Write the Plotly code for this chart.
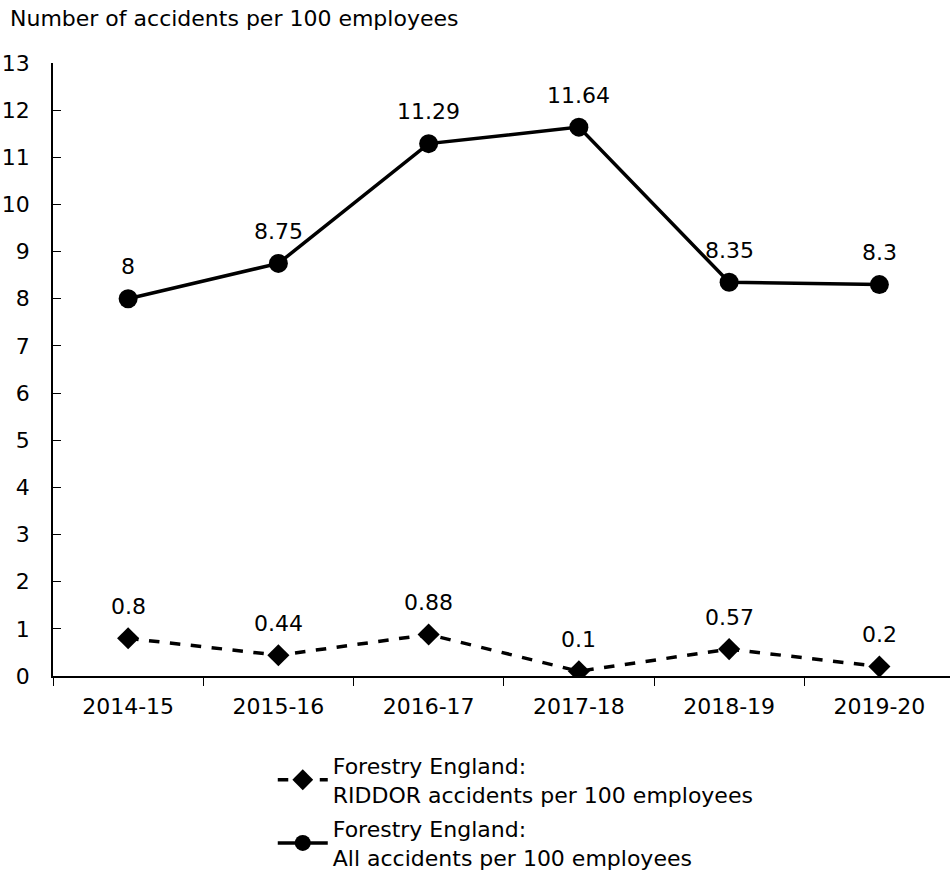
import plotly.graph_objects as go

years = ["2014-15", "2015-16", "2016-17", "2017-18", "2018-19", "2019-20"]
riddor = [0.8, 0.44, 0.88, 0.1, 0.57, 0.2]
all_acc = [8, 8.75, 11.29, 11.64, 8.35, 8.3]
riddor_labels = ["0.8", "0.44", "0.88", "0.1", "0.57", "0.2"]
all_labels = ["8", "8.75", "11.29", "11.64", "8.35", "8.3"]

FONT = "DejaVu Sans"
FS = 22

fig = go.Figure()
fig.add_trace(go.Scatter(
    x=years, y=riddor, mode="lines+markers", legendgroup="a",
    name="Forestry England:<br>RIDDOR accidents per 100 employees",
    line=dict(color="black", width=3.5, dash="dash"),
    marker=dict(symbol="diamond", size=17, color="black"),
))
fig.add_trace(go.Scatter(
    x=years, y=all_acc, mode="lines+markers", legendgroup="b",
    name="Forestry England:<br>All accidents per 100 employees",
    line=dict(color="black", width=3.5),
    marker=dict(symbol="circle", size=19, color="black"),
))

for xs, ys, labs in [(years, riddor, riddor_labels), (years, all_acc, all_labels)]:
    for x, y, t in zip(xs, ys, labs):
        fig.add_annotation(x=x, y=y, text=t, showarrow=False, yshift=32,
                           font=dict(family=FONT, size=FS, color="black"))

fig.add_annotation(xref="paper", yref="paper", x=-0.05, y=1.0, yshift=45,
                   xanchor="left", yanchor="middle", showarrow=False,
                   text="Number of accidents per 100 employees",
                   font=dict(family=FONT, size=FS, color="black"))

fig.update_layout(
    width=950, height=874,
    margin=dict(l=53, r=0, t=63, b=198, autoexpand=False),
    paper_bgcolor="white", plot_bgcolor="white",
    font=dict(family=FONT, size=FS, color="black"),
    showlegend=True,
    legend=dict(x=0.245, y=-0.112, xanchor="left", yanchor="top",
                font=dict(family=FONT, size=FS, color="black"),
                tracegroupgap=3, itemwidth=50),
)
fig.update_xaxes(type="category", tickson="boundaries", ticks="outside",
                 ticklen=8, tickcolor="black", showline=True, linecolor="black",
                 linewidth=1.5, showgrid=False, range=[-0.5, 5.47], automargin=False,
                 tickfont=dict(family=FONT, size=FS), ticklabelstandoff=10)
fig.update_yaxes(range=[0, 13], dtick=1, ticks="inside", ticklen=8,
                 tickcolor="black", showline=True, linecolor="black",
                 linewidth=1.5, showgrid=False, zeroline=False, automargin=False,
                 tickfont=dict(family=FONT, size=FS), ticklabelstandoff=17)

fig.write_html("out.html", config={"displayModeBar": False},
               post_script="document.body.style.margin='0';")
